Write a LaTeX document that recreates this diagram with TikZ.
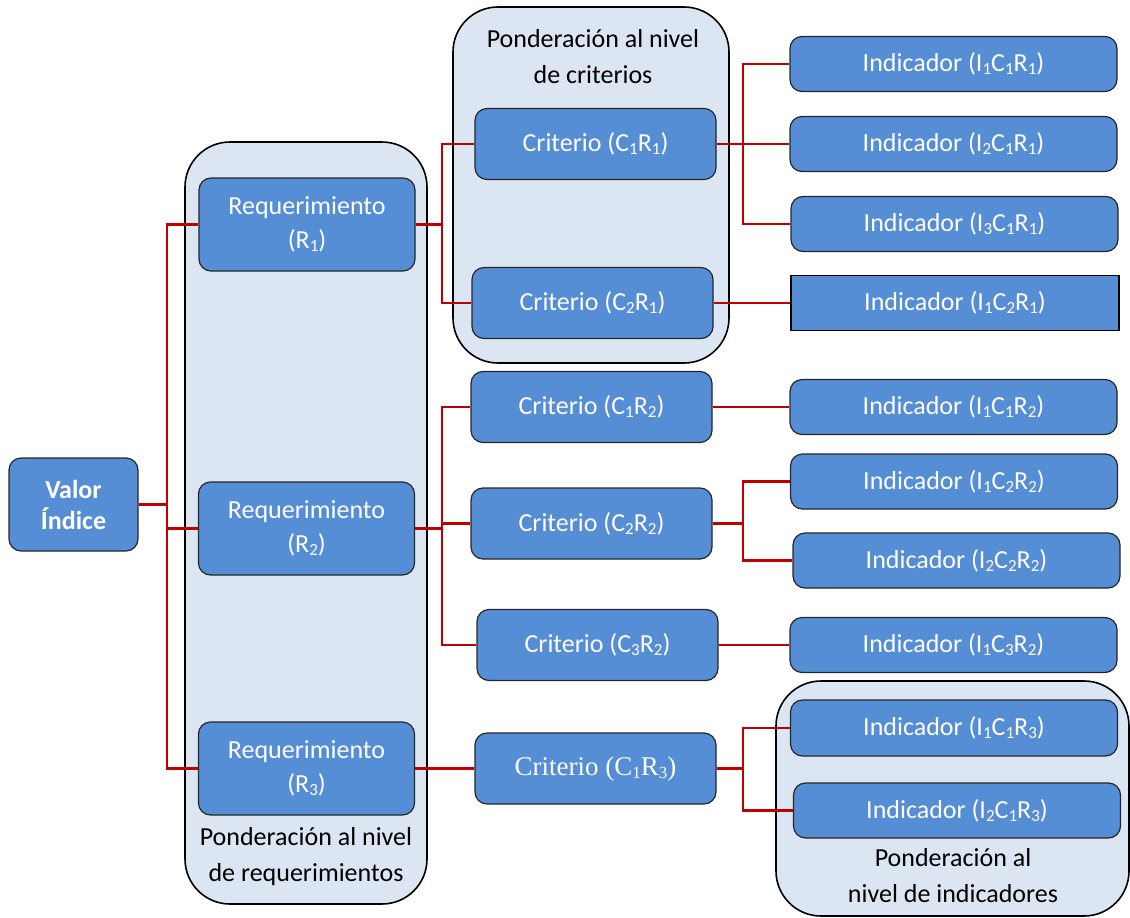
\documentclass[tikz,border=0pt]{standalone}
\usepackage{fontspec}
\setmainfont{Carlito}
\newfontfamily\serifcam{Liberation Serif}
\newcommand\ssb[1]{\raisebox{-0.25ex}{\fontsize{17}{17}\selectfont #1}}
\definecolor{boxblue}{HTML}{558ED5}
\definecolor{grpblue}{HTML}{DCE6F2}
\definecolor{linkred}{HTML}{C00000}
\tikzset{
  base/.style={x=1pt,y=-1pt},
  grp/.style={draw=black, line width=1.6pt, fill=grpblue, rounded corners=45pt, inner sep=0pt},
  bbox/.style={draw=black!85, line width=1.2pt, fill=boxblue, rounded corners=12pt, text=white, align=center, inner sep=0pt, font=\fontsize{26}{34}\selectfont},
  rbox/.style={bbox, minimum width=216pt, minimum height=93pt},
  cbox/.style={bbox, minimum width=241pt, minimum height=71pt},
  ibox/.style={bbox, minimum width=327pt, minimum height=55pt},
  lbl/.style={align=center, text=black, inner sep=0pt, font=\fontsize{26}{36}\selectfont},
  conn/.style={draw=linkred, line width=2.2pt}
}
\begin{document}
\begin{tikzpicture}[base]
\useasboundingbox (0,0) rectangle (1130,918);
% groups
\node[grp, minimum width=242pt, minimum height=762pt] (RG) at (306,523) {};
\node[grp, minimum width=276pt, minimum height=356pt] (CG) at (591,185) {};
\node[grp, minimum width=353pt, minimum height=235pt] (IG) at (952.5,798.5) {};
\node[lbl] (RGl) at (306,857) {Ponderación al nivel\\de requerimientos};
\node[lbl] (CGl) at (593,57) {Ponderación al nivel\\de criterios};
\node[lbl] (IGl) at (953,876) {Ponderación al\\nivel de indicadores};
% boxes
\node[bbox, minimum width=129pt, minimum height=93pt, font=\bfseries\fontsize{26}{31}\selectfont] (V) at (73.5,504.5) {Valor\\Índice};
\node[rbox] (R1) at (307,224.5) {Requerimiento\\(R\ssb{1})};
\node[rbox] (R2) at (306.5,528.5) {Requerimiento\\(R\ssb{2})};
\node[rbox] (R3) at (306.5,768.5) {Requerimiento\\(R\ssb{3})};
\node[cbox] (C1R1) at (595.5,144) {Criterio (C\ssb{1}R\ssb{1})};
\node[cbox] (C2R1) at (592.5,303) {Criterio (C\ssb{2}R\ssb{1})};
\node[cbox] (C1R2) at (591.5,407) {Criterio (C\ssb{1}R\ssb{2})};
\node[cbox] (C2R2) at (591.5,523.5) {Criterio (C\ssb{2}R\ssb{2})};
\node[cbox] (C3R2) at (597.5,645) {Criterio (C\ssb{3}R\ssb{2})};
\node[cbox, font=\serifcam\fontsize{27}{34}\selectfont] (C1R3) at (595.5,768.5) {Criterio (C\ssb{1}R\ssb{3})};
\node[ibox] (I1) at (953.5,64) {Indicador (I\ssb{1}C\ssb{1}R\ssb{1})};
\node[ibox] (I2) at (953.5,144) {Indicador (I\ssb{2}C\ssb{1}R\ssb{1})};
\node[ibox] (I3) at (954.5,224) {Indicador (I\ssb{3}C\ssb{1}R\ssb{1})};
\node[ibox, rounded corners=0pt, draw=black, line width=1.8pt, minimum width=328pt] (I4) at (955,303) {Indicador (I\ssb{1}C\ssb{2}R\ssb{1})};
\node[ibox] (I5) at (953.5,407) {Indicador (I\ssb{1}C\ssb{1}R\ssb{2})};
\node[ibox] (I6) at (954,481.5) {Indicador (I\ssb{1}C\ssb{2}R\ssb{2})};
\node[ibox] (I7) at (956.5,560.5) {Indicador (I\ssb{2}C\ssb{2}R\ssb{2})};
\node[ibox] (I8) at (953.5,645) {Indicador (I\ssb{1}C\ssb{3}R\ssb{2})};
\node[ibox, minimum height=56pt] (I9) at (954,728) {Indicador (I\ssb{1}C\ssb{1}R\ssb{3})};
\node[ibox] (I10) at (957,810.5) {Indicador (I\ssb{2}C\ssb{1}R\ssb{3})};
% connectors
\begin{scope}[on background layer/.style={}]
\draw[conn] (V.east) -- ++(28,0) coordinate (j0);
\draw[conn] (j0) |- (R1.west);
\draw[conn] (j0) |- (R2.west);
\draw[conn] (j0) |- (R3.west);
\draw[conn] (R1.east) -- ++(26,0) coordinate (j1);
\draw[conn] (j1) |- (C1R1.west);
\draw[conn] (j1) |- (C2R1.west);
\draw[conn] (R2.east) -- ++(27,0) coordinate (j2);
\draw[conn] (j2) |- (C1R2.west);
\draw[conn] (j2) |- (C2R2.west);
\draw[conn] (j2) |- (C3R2.west);
\draw[conn] (R3.east) -- (C1R3.west);
\draw[conn] (C1R1.east) -- ++(26,0) coordinate (j3);
\draw[conn] (j3) |- (I1.west);
\draw[conn] (j3) |- (I2.west);
\draw[conn] (j3) |- (I3.west);
\draw[conn] (C2R1.east) -- (I4.west);
\draw[conn] (C1R2.east) -- (I5.west);
\draw[conn] (C2R2.east) -- ++(30,0) coordinate (j4);
\draw[conn] (j4) |- (I6.west);
\draw[conn] (j4) |- (I7.west);
\draw[conn] (C3R2.east) -- (I8.west);
\draw[conn] (C1R3.east) -- ++(26,0) coordinate (j5);
\draw[conn] (j5) |- (I9.west);
\draw[conn] (j5) |- (I10.west);
\end{scope}
\end{tikzpicture}
\end{document}
